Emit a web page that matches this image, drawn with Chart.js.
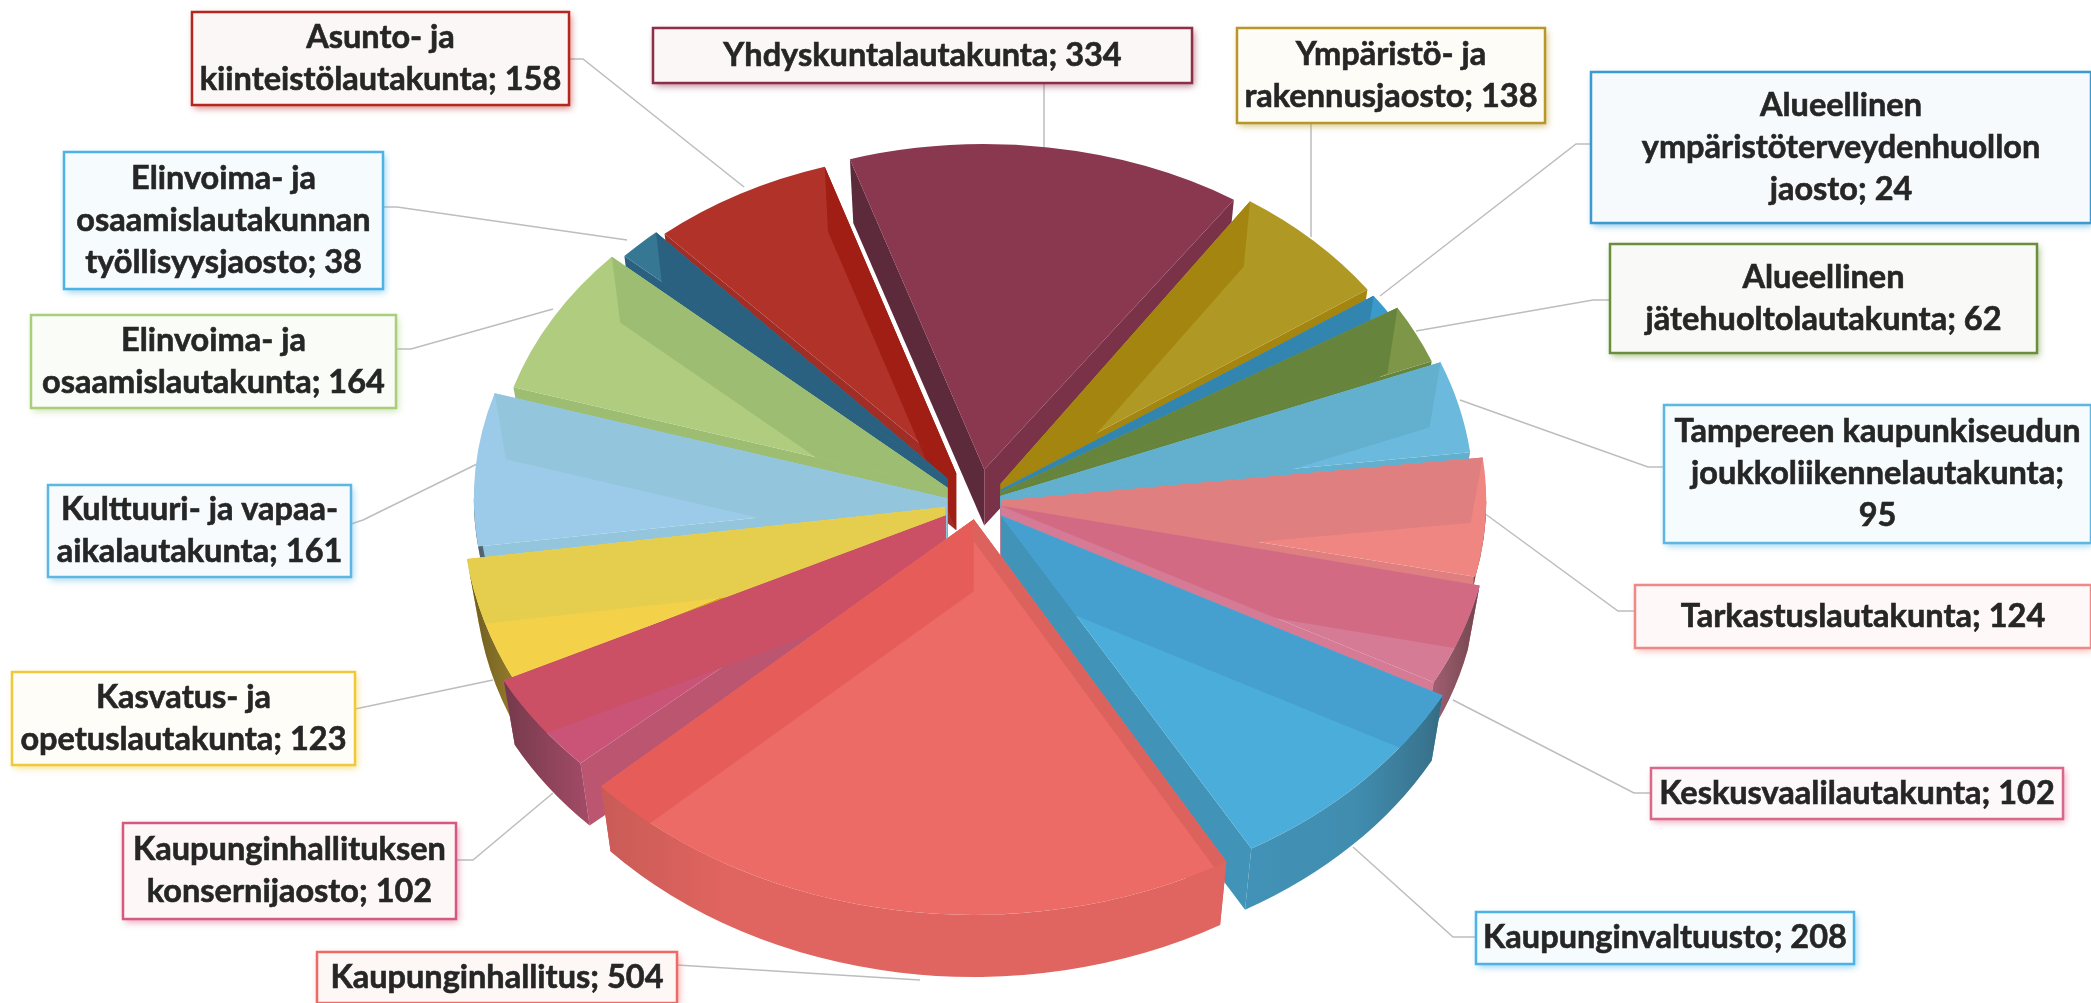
<!DOCTYPE html>
<html>
<head>
<meta charset="utf-8">
<title>Lautakunnat</title>
<script src="https://cdn.jsdelivr.net/npm/chart.js@4/dist/chart.umd.min.js"></script>
<style>
  html, body { margin: 0; padding: 0; background: #fff; overflow: hidden; }
  canvas { display: block; }
</style>
</head>
<body>
<canvas id="pie" width="2091" height="1003"></canvas>
<script>
// data, clockwise from the top slice
const categories = [
    "Yhdyskuntalautakunta",
    "Ympäristö- ja\nrakennusjaosto",
    "Alueellinen\nympäristöterveydenhuollon\njaosto",
    "Alueellinen\njätehuoltolautakunta",
    "Tampereen kaupunkiseudun\njoukkoliikennelautakunta",
    "Tarkastuslautakunta",
    "Keskusvaalilautakunta",
    "Kaupunginvaltuusto",
    "Kaupunginhallitus",
    "Kaupunginhallituksen\nkonsernijaosto",
    "Kasvatus- ja\nopetuslautakunta",
    "Kulttuuri- ja vapaa-\naikalautakunta",
    "Elinvoima- ja\nosaamislautakunta",
    "Elinvoima- ja\nosaamislautakunnan\ntyöllisyysjaosto",
    "Asunto- ja\nkiinteistölautakunta",
];
const values = [334, 138, 24, 62, 95, 124, 102, 208, 504, 102, 123, 161, 164, 38, 158];

const topColors = ["#8a3750", "#b09825", "#3a9ac9", "#7d9648", "#6cb9de", "#f08682", "#d57b95", "#4badd9", "#ec6b66", "#c95478", "#f3d24a", "#9bcbe9", "#b0cc7e", "#367893", "#b03228"];
const bandColors = ["#7a3248", "#a4850f", "#3185ae", "#66843c", "#62b0cd", "#df7f7f", "#d26a84", "#46a0cf", "#e65c58", "#cb5065", "#e5ce4e", "#93c6dc", "#9cbd72", "#2a6180", "#a01e14"];
const wallColors = ["#7a3248", "#a4850f", "#3185ae", "#66843c", "#62b0cd", "#df7f7f", "#d57b95", "#4293b8", "#e0645f", "#bd5578", "#e8c33a", "#93c6dc", "#9cbd72", "#2a6180", "#8f2a22"];
const startEdgeColors = ["#5c2a3a", "#a4850f", "#3185ae", "#66843c", "#62b0cd", "#df7f7f", "#d26a84", "#46a0cf", "#dc625e", "#bb5570", "#d6ac10", "#93c6dc", "#9cbd72", "#2a6180", "#a12e26"];
const borderColors = ["#8c2f48", "#b8972a", "#3b9ad0", "#6b8e3a", "#5db7e0", "#ee8a86", "#d9688a", "#4db3e6", "#ee6a66", "#d55a80", "#f0c93a", "#5db7e0", "#a9cf7d", "#4db3e6", "#b5261e"];
const boxFills = ["#fbf7f6", "#fdfcf7", "#f6fafc", "#f9f9f7", "#f6fbfd", "#fef9f8", "#fdf8f9", "#f6fbfd", "#fdf7f6", "#fdf7f8", "#fefdf8", "#f7fbfe", "#fafcf7", "#f6fbfd", "#fbf7f6"];

// layout of the 3d look
const squash = 0.7;
const centerY = 500;
const explode = [44, 32, 27, 25, 23, 23, 24, 32, 28, 39, 34, 31, 35, 43, 44];
const sliceScale = [0.93, 0.93, 0.945, 0.965, 0.985, 1.01, 1.02, 1.04, 1.05, 1.03, 1.005, 0.985, 0.945, 0.91, 0.91];
const yStretch = [1.04, 1.09, 1.07, 1.1, 1.1, 1.06, 1.1, 1.1, 1.12, 1.06, 1.14, 1.08, 1.08, 1.08, 1.05];
const paintOrder = [14, 13, 12, 11, 10, 9, 0, 1, 2, 3, 4, 5, 6, 7, 8];

// label boxes x0, y0, x1, y1
const labelBoxes = [
    [653, 28, 1192, 83],
    [1237, 28, 1545, 123],
    [1591, 72, 2091, 223],
    [1610, 244, 2037, 353],
    [1664, 405, 2091, 543],
    [1635, 585, 2091, 648],
    [1651, 768, 2063, 819],
    [1476, 912, 1854, 964],
    [317, 952, 677, 1003],
    [123, 823, 456, 919],
    [12, 672, 355, 765],
    [48, 485, 351, 577],
    [31, 315, 396, 408],
    [64, 152, 383, 289],
    [192, 12, 569, 105],
];
const leaders = [
    [[1044, 83], [1044, 147]],
    [[1311, 123], [1311, 237]],
    [[1591, 144], [1576, 144], [1380, 296]],
    [[1610, 300], [1593, 300], [1416, 331]],
    [[1664, 467], [1648, 467], [1460, 400]],
    [[1635, 611], [1618, 611], [1484, 513]],
    [[1651, 793], [1634, 793], [1453, 700]],
    [[1476, 937], [1453, 937], [1353, 847]],
    [[677, 965], [920, 980]],
    [[456, 860], [473, 860], [553, 793]],
    [[355, 709], [493, 680]],
    [[351, 524], [363, 520], [477, 464]],
    [[396, 349], [411, 349], [553, 309]],
    [[383, 207], [397, 207], [627, 240]],
    [[569, 59], [583, 59], [744, 187]],
];

function sliceFrame(arc, i) {
    const mid = (arc.startAngle + arc.endAngle) / 2;
    const rx = sliceScale[i] * arc.outerRadius;
    return {
        ox: arc.x + explode[i] * Math.cos(mid),
        oy: centerY + squash * explode[i] * Math.sin(mid),
        rx: rx,
        ry: squash * yStretch[i] * rx,
        depth: 64 + 8 * Math.sin(mid),
    };
}

// the bottom of the slab is a bit smaller than the top
const inset = 0.975;

function fillWall(ctx, f, angle, color, depth) {
    const cos = Math.cos(angle);
    const sin = Math.sin(angle);
    const d = depth || f.depth;
    ctx.fillStyle = color;
    ctx.beginPath();
    ctx.moveTo(f.ox, f.oy);
    ctx.lineTo(f.ox + f.rx * cos, f.oy + f.ry * sin);
    ctx.lineTo(f.ox + inset * f.rx * cos, f.oy + d + inset * f.ry * sin);
    ctx.lineTo(f.ox, f.oy + d);
    ctx.closePath();
    ctx.fill();
}

function fillRim(ctx, arc, f, color) {
    const a0 = Math.max(arc.startAngle, 0);
    const a1 = Math.min(arc.endAngle, Math.PI);
    if (a1 <= a0) return;
    ctx.beginPath();
    ctx.ellipse(f.ox, f.oy, f.rx, f.ry, 0, a0, a1);
    ctx.ellipse(f.ox, f.oy + f.depth, inset * f.rx, inset * f.ry, 0, a1, a0, true);
    ctx.closePath();
    ctx.fillStyle = color;
    ctx.fill();
    // the rim goes dark towards the sides of the pie
    const shade = ctx.createLinearGradient(arc.x - 510, 0, arc.x + 510, 0);
    shade.addColorStop(0, "rgba(30,25,20,0.62)");
    shade.addColorStop(0.05, "rgba(30,25,20,0.4)");
    shade.addColorStop(0.13, "rgba(30,25,20,0.12)");
    shade.addColorStop(0.25, "rgba(30,25,20,0)");
    shade.addColorStop(0.75, "rgba(30,25,20,0)");
    shade.addColorStop(0.87, "rgba(30,25,20,0.05)");
    shade.addColorStop(0.94, "rgba(30,25,20,0.25)");
    shade.addColorStop(1, "rgba(30,25,20,0.6)");
    ctx.fillStyle = shade;
    ctx.fill();
}

function drawSlice(ctx, arc, i) {
    const f = sliceFrame(arc, i);
    const startFront = Math.cos(arc.startAngle) < 0;
    const endFront = Math.cos(arc.endAngle) > 0;

    // walls that stand outside the top face
    fillWall(ctx, f, arc.startAngle, startEdgeColors[i]);
    fillWall(ctx, f, arc.endAngle, endFront ? wallColors[i] : bandColors[i]);
    fillRim(ctx, arc, f, wallColors[i]);

    // top face, drawn by the library
    ctx.save();
    ctx.translate(f.ox, f.oy);
    ctx.scale(f.rx / arc.outerRadius, f.ry / arc.outerRadius);
    ctx.translate(-arc.x, -arc.y);
    arc.draw(ctx);
    ctx.restore();

    // walls behind the top face show through it
    ctx.save();
    ctx.beginPath();
    ctx.moveTo(f.ox, f.oy);
    ctx.ellipse(f.ox, f.oy, f.rx, f.ry, 0, arc.startAngle, arc.endAngle);
    ctx.closePath();
    ctx.clip();
    // the big front slice only shows a narrow band on its right edge
    if (!startFront) fillWall(ctx, f, arc.startAngle, startEdgeColors[i], i === 8 ? 22 : 0);
    if (!endFront) fillWall(ctx, f, arc.endAngle, bandColors[i]);
    ctx.restore();
}

function drawLabel(ctx, i) {
    const [x0, y0, x1, y1] = labelBoxes[i];
    ctx.save();
    ctx.shadowColor = borderColors[i] + "99";
    ctx.shadowBlur = 7;
    ctx.shadowOffsetX = 2;
    ctx.shadowOffsetY = 3;
    ctx.fillStyle = boxFills[i];
    ctx.fillRect(x0, y0, x1 - x0, y1 - y0);
    ctx.restore();
    ctx.strokeStyle = borderColors[i];
    ctx.lineWidth = 2.5;
    ctx.strokeRect(x0, y0, x1 - x0, y1 - y0);

    const text = i === 4 ? categories[i] + ";\n" + values[i] : categories[i] + "; " + values[i];
    const lines = text.split("\n");
    const lineHeight = 42;
    ctx.fillStyle = "#262626";
    ctx.strokeStyle = "#262626";
    ctx.lineWidth = 0.6;
    ctx.font = "bold 32.5px Lato, 'Open Sans', sans-serif";
    ctx.textAlign = "center";
    ctx.textBaseline = "middle";
    const midY = (y0 + y1) / 2;
    lines.forEach((line, n) => {
        const y = midY + (n - (lines.length - 1) / 2) * lineHeight;
        ctx.fillText(line, (x0 + x1) / 2, y);
        ctx.strokeText(line, (x0 + x1) / 2, y);
    });
}

const pie3d = {
    id: "pie3d",
    beforeDatasetDraw(chart) {
        const ctx = chart.ctx;
        const arcs = chart.getDatasetMeta(0).data;

        ctx.strokeStyle = "#bdbdbd";
        ctx.lineWidth = 1.5;
        leaders.forEach((pts) => {
            ctx.beginPath();
            pts.forEach((p, n) => (n ? ctx.lineTo(p[0], p[1]) : ctx.moveTo(p[0], p[1])));
            ctx.stroke();
        });

        paintOrder.forEach((i) => drawSlice(ctx, arcs[i], i));
        return false;
    },
    afterDraw(chart) {
        categories.forEach((c, i) => drawLabel(chart.ctx, i));
    },
};

new Chart(document.getElementById("pie"), {
    type: "pie",
    data: {
        labels: categories,
        datasets: [
            {
                data: values,
                backgroundColor: topColors,
                borderWidth: 0,
            },
        ],
    },
    options: {
        responsive: false,
        animation: false,
        rotation: -17.5,
        layout: { padding: { top: 21, bottom: 21, right: 135 } },
        plugins: {
            legend: { display: false },
            tooltip: { enabled: false },
        },
    },
    plugins: [pie3d],
});
</script>
</body>
</html>
